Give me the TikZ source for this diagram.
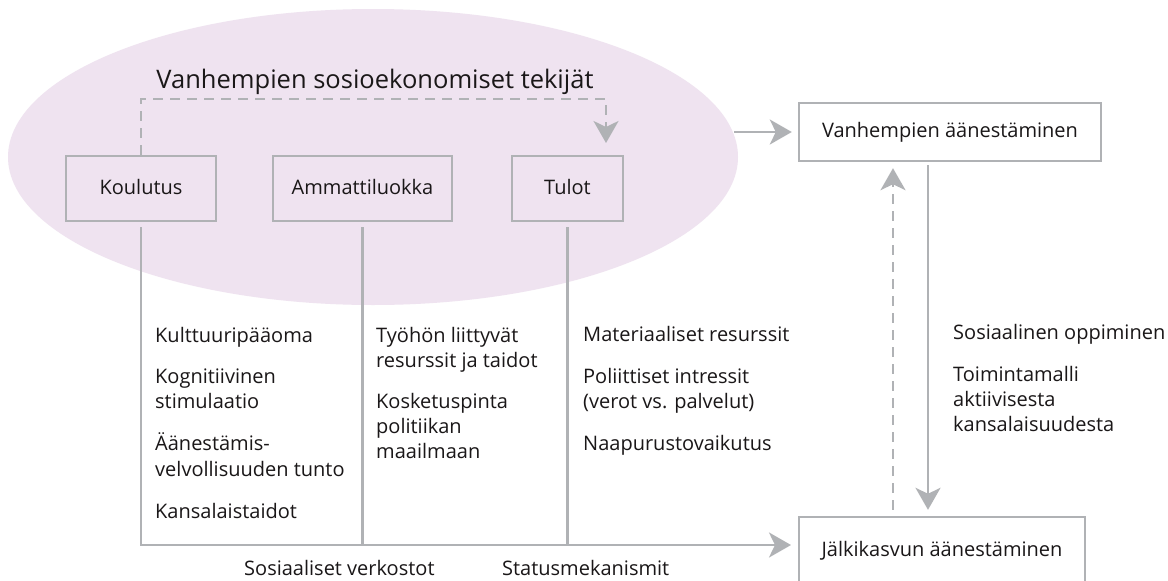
\documentclass[tikz,border=0pt]{standalone}
\usepackage{fontspec}
\setmainfont{Open Sans}
\usetikzlibrary{arrows.meta,shapes.geometric}
\definecolor{lg}{HTML}{B0B2B5}
\definecolor{ell}{HTML}{EFE3F0}
\definecolor{tx}{HTML}{1A1718}
\begin{document}
\begin{tikzpicture}[x=1pt,y=-1pt,
  box/.style={draw=lg,line width=2.4pt,inner sep=0pt,text height=15pt,text depth=4pt,
    font=\fontsize{20}{24}\selectfont,text=tx},
  lab/.style={anchor=base west,inner sep=0pt,font=\fontsize{20}{24}\selectfont,text=tx},
  conn/.style={draw=lg,line width=2.4pt},
  tip/.style={-{Stealth[length=22pt,width=25pt,inset=6pt]}},
  dsh/.style={conn,dash pattern=on 10pt off 7pt},
]
\useasboundingbox (0,0) rectangle (1168,581);
\fill[white] (0,0) rectangle (1168,581);

% ellipse
\node[ellipse,fill=ell,minimum width=730pt,minimum height=296pt,inner sep=0pt] (soc) at (373,157) {};
\node[anchor=base,inner sep=0pt,font=\fontsize{25.5}{30}\selectfont,text=tx] (title) at (375,88) {Vanhempien sosioekonomiset tekijät};

% boxes
\node[box,minimum width=150pt,minimum height=65pt] (kou) at (141,188.5) {Koulutus};
\node[box,minimum width=179pt,minimum height=65pt] (amm) at (362.5,188.5) {Ammattiluokka};
\node[box,minimum width=111pt,minimum height=65pt] (tul) at (567.5,188.5) {Tulot};
\node[box,fill=white,minimum width=302pt,minimum height=58pt] (van) at (950,132) {Vanhempien äänestäminen};
\node[box,fill=white,minimum width=286pt,minimum height=68pt] (jal) at (942,551) {Jälkikasvun äänestäminen};

% coordinates
\coordinate (dc) at (606,99);
\coordinate (dt) at (606,143);
\coordinate (jin) at (791,545);

% dashed connector Koulutus -> Tulot
\draw[dsh,tip] (kou.north) |- (dc) -- (dt);

% ellipse -> Vanhempien
\draw[conn,tip] ([xshift=-4pt]soc.east |- van.west) -- ([xshift=-6pt]van.west);

% vertical lines to bottom
\draw[conn,tip] ([yshift=-5pt]kou.south) |- (jin);
\draw[conn] ([yshift=-5pt]amm.south) -- (amm.south |- jin);
\draw[conn] ([yshift=-5pt]tul.south) -- (tul.south |- jin);

% right side arrows
\draw[dsh,tip] ([xshift=-49pt,yshift=6pt]jal.north) -- ([xshift=-57pt,yshift=-6pt]van.south);
\draw[conn,tip] ([xshift=-22pt,yshift=-3pt]van.south) -- ([xshift=-14pt,yshift=6pt]jal.north);

% column texts: Koulutus
\node[lab] (k1) at (155,342) {Kulttuuripääoma};
\node[lab] (k2) at (155,383) {Kognitiivinen};
\node[lab] (k3) at (155,408) {stimulaatio};
\node[lab] (k4) at (155,450) {Äänestämis-};
\node[lab] (k5) at (155,476) {velvollisuuden tunto};
\node[lab] (k6) at (155,518) {Kansalaistaidot};

% Ammattiluokka
\node[lab] (a1) at (376,342) {Työhön liittyvät};
\node[lab] (a2) at (376,367) {resurssit ja taidot};
\node[lab] (a3) at (376,408) {Kosketuspinta};
\node[lab] (a4) at (376,433) {politiikan};
\node[lab] (a5) at (376,458) {maailmaan};

% Tulot
\node[lab] (u1) at (583,341) {Materiaaliset resurssit};
\node[lab] (u2) at (583,383) {Poliittiset intressit};
\node[lab] (u3) at (583,408) {(verot vs. palvelut)};
\node[lab] (u4) at (583,450) {Naapurustovaikutus};

% right column
\node[lab] (r1) at (953,339) {Sosiaalinen oppiminen};
\node[lab] (r2) at (953,381) {Toimintamalli};
\node[lab] (r3) at (953,406) {aktiivisesta};
\node[lab] (r4) at (953,431) {kansalaisuudesta};

% bottom labels
\node[lab] (b1) at (244,575) {Sosiaaliset verkostot};
\node[lab] (b2) at (502,575) {Statusmekanismit};
\end{tikzpicture}
\end{document}
